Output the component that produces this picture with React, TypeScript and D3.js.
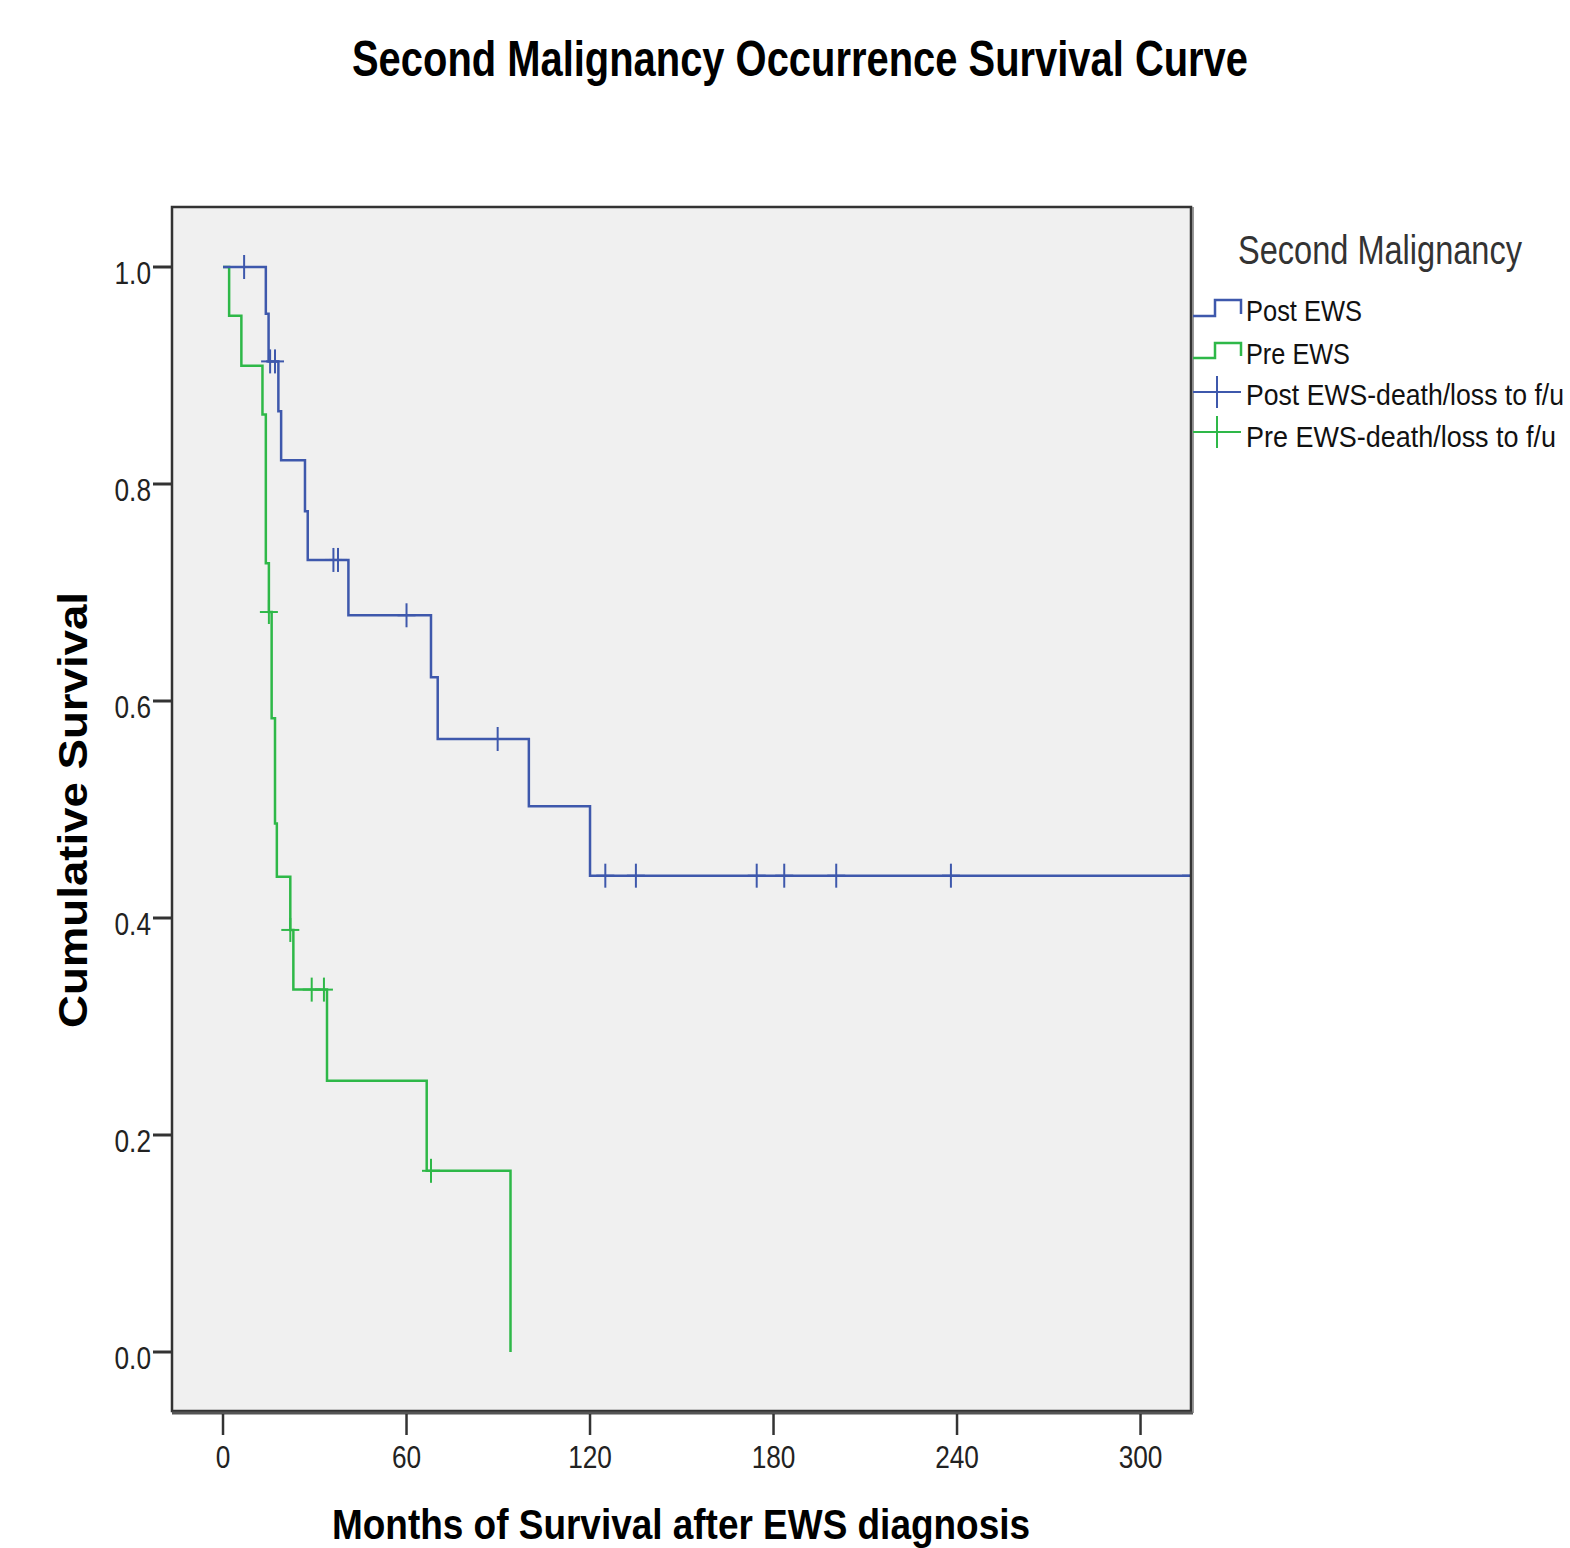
import React from "react";
import * as d3 from "d3";

// ---- Data ----
const postTimes = [0, 14, 14.9, 18.1, 19, 26.8, 27.7, 41, 68, 70.2, 100, 120, 316.5];
const postSurv = [1.0, 0.957, 0.913, 0.867, 0.822, 0.775, 0.73, 0.679, 0.622, 0.565, 0.503, 0.439, 0.439];
const postCensorTimes = [6.9, 15.4, 17, 36.1, 37.6, 60, 89.8, 125, 135, 174.5, 183.5, 200.5, 238, 316.5];
const postCensorSurv = [1.0, 0.913, 0.913, 0.73, 0.73, 0.679, 0.565, 0.439, 0.439, 0.439, 0.439, 0.439, 0.439, 0.439];

const preTimes = [0, 2, 6, 12.9, 14, 15, 15.9, 17, 17.6, 22, 23, 34, 66.6, 94];
const preSurv = [1.0, 0.955, 0.909, 0.864, 0.727, 0.682, 0.584, 0.487, 0.438, 0.389, 0.334, 0.25, 0.167, 0.0];
const preCensorTimes = [15, 22, 29, 33, 68];
const preCensorSurv = [0.682, 0.389, 0.334, 0.334, 0.167];

const xTicks = [0, 60, 120, 180, 240, 300];
const yTicks = [0.0, 0.2, 0.4, 0.6, 0.8, 1.0];

const legendTitle = "Second Malignancy";
const legendLabels = ["Post EWS", "Pre EWS", "Post EWS-death/loss to f/u", "Pre EWS-death/loss to f/u"];

const BLUE = "#3e58ac";
const GREEN = "#2eb848";

export default function App() {
  const W = 1570, H = 1548;
  const left = 172, right = 1191, top = 207, bottom = 1411;
  const x = d3.scaleLinear().domain([-16.68, 316.5]).range([left, right]);
  const y = d3.scaleLinear().domain([0, 1]).range([1352, 267]);

  const line = d3
    .line<[number, number]>()
    .x((d) => x(d[0]))
    .y((d) => y(d[1]))
    .curve(d3.curveStepAfter);

  const postPts: [number, number][] = postTimes.map((t, i) => [t, postSurv[i]]);
  const prePts: [number, number][] = preTimes.map((t, i) => [t, preSurv[i]]);

  const censor = (t: number, s: number, color: string, key: string) => (
    <g key={key} stroke={color} strokeWidth={2}>
      <line x1={x(t) - 9} x2={x(t) + 9} y1={y(s)} y2={y(s)} />
      <line x1={x(t)} x2={x(t)} y1={y(s) - 12} y2={y(s) + 12} />
    </g>
  );

  const legendX = 1193;
  const legendRows = [318, 361, 392, 432];
  const legendBaselines = [321, 364, 405, 447];
  const legendLens = [116, 104, 318, 310];
  const legSx = 0.84;

  return (
    <svg
      width={W}
      height={H}
      style={{ position: "absolute", left: 0, top: 0, background: "#fff" }}
      fontFamily="'Liberation Sans', Arial, sans-serif"
    >
      <defs>
        <clipPath id="plotClip">
          <rect x={left} y={top} width={right - left} height={bottom - top} />
        </clipPath>
      </defs>
      <rect x={0} y={0} width={W} height={H} fill="#fff" />
      {/* Title */}
      <text
        x={352}
        y={76}
        fontSize={50}
        fontWeight="bold"
        textLength={896}
        lengthAdjust="spacingAndGlyphs"
        fill="#000"
      >
        Second Malignancy Occurrence Survival Curve
      </text>

      {/* Plot area */}
      <rect x={left} y={top} width={right - left} height={bottom - top} fill="#f0f0f0" />

      {/* Curves */}
      <g clipPath="url(#plotClip)">
        <path d={line(prePts) || ""} fill="none" stroke={GREEN} strokeWidth={2.5} />
        <path d={line(postPts) || ""} fill="none" stroke={BLUE} strokeWidth={2.5} />
        {preCensorTimes.map((t, i) => censor(t, preCensorSurv[i], GREEN, "pc" + i))}
        {postCensorTimes.map((t, i) => censor(t, postCensorSurv[i], BLUE, "bc" + i))}
      </g>

      <rect x={left} y={top} width={right - left} height={bottom - top} fill="none" stroke="#333" strokeWidth={2.5} />
      <line x1={left} x2={right + 2} y1={bottom + 2} y2={bottom + 2} stroke="#555" strokeWidth={3} />
      <line x1={right + 2} x2={right + 2} y1={top} y2={bottom + 2} stroke="#777" strokeWidth={1.5} />

      {/* Y axis ticks */}
      {yTicks.map((t) => (
        <g key={"y" + t}>
          <line x1={153} x2={left} y1={y(t)} y2={y(t)} stroke="#333" strokeWidth={3} />
          <text
            transform={`translate(151,${y(t) + 17}) scale(0.82,1)`}
            textAnchor="end"
            fontSize={32}
            fill="#222"
          >
            {t.toFixed(1)}
          </text>
        </g>
      ))}

      {/* X axis ticks */}
      {xTicks.map((t) => (
        <g key={"x" + t}>
          <line x1={x(t)} x2={x(t)} y1={bottom + 3} y2={1435} stroke="#333" strokeWidth={2.5} />
          <text
            transform={`translate(${x(t)},1468) scale(0.82,1)`}
            textAnchor="middle"
            fontSize={32}
            fill="#222"
          >
            {t}
          </text>
        </g>
      ))}

      {/* Axis titles */}
      <text
        x={332}
        y={1539}
        fontSize={42}
        fontWeight="bold"
        textLength={698}
        lengthAdjust="spacingAndGlyphs"
        fill="#000"
      >
        Months of Survival after EWS diagnosis
      </text>
      <text
        transform="translate(87,1028) rotate(-90)"
        fontSize={40}
        fontWeight="bold"
        textLength={436}
        lengthAdjust="spacingAndGlyphs"
        fill="#000"
      >
        Cumulative Survival
      </text>

      {/* Legend */}
      <text
        transform="translate(1238,264) scale(0.814,1)"
        fontSize={40}
        textLength={284 / 0.814}
        lengthAdjust="spacingAndGlyphs"
        fill="#333"
      >
        {legendTitle}
      </text>
      {legendLabels.map((lab, i) => {
        const color = i % 2 === 0 ? BLUE : GREEN;
        const yy = legendRows[i];
        let sym;
        if (i < 2) {
          const low = i === 0 ? 316 : 358;
          const high = i === 0 ? 300 : 343;
          sym = (
            <path
              d={`M${legendX},${low} H1215 V${high} H1241 V${low - 2}`}
              fill="none"
              stroke={color}
              strokeWidth={2.5}
            />
          );
        } else {
          sym = (
            <g stroke={color} strokeWidth={2}>
              <line x1={legendX} x2={1241} y1={yy} y2={yy} />
              <line x1={1217} x2={1217} y1={yy - 16} y2={yy + 16} />
            </g>
          );
        }
        return (
          <g key={"lg" + i}>
            {sym}
            <text
              transform={`translate(1246,${legendBaselines[i]}) scale(${legSx},1)`}
              fontSize={30}
              textLength={legendLens[i] / legSx}
              lengthAdjust="spacingAndGlyphs"
              fill="#111"
            >
              {lab}
            </text>
          </g>
        );
      })}
    </svg>
  );
}
